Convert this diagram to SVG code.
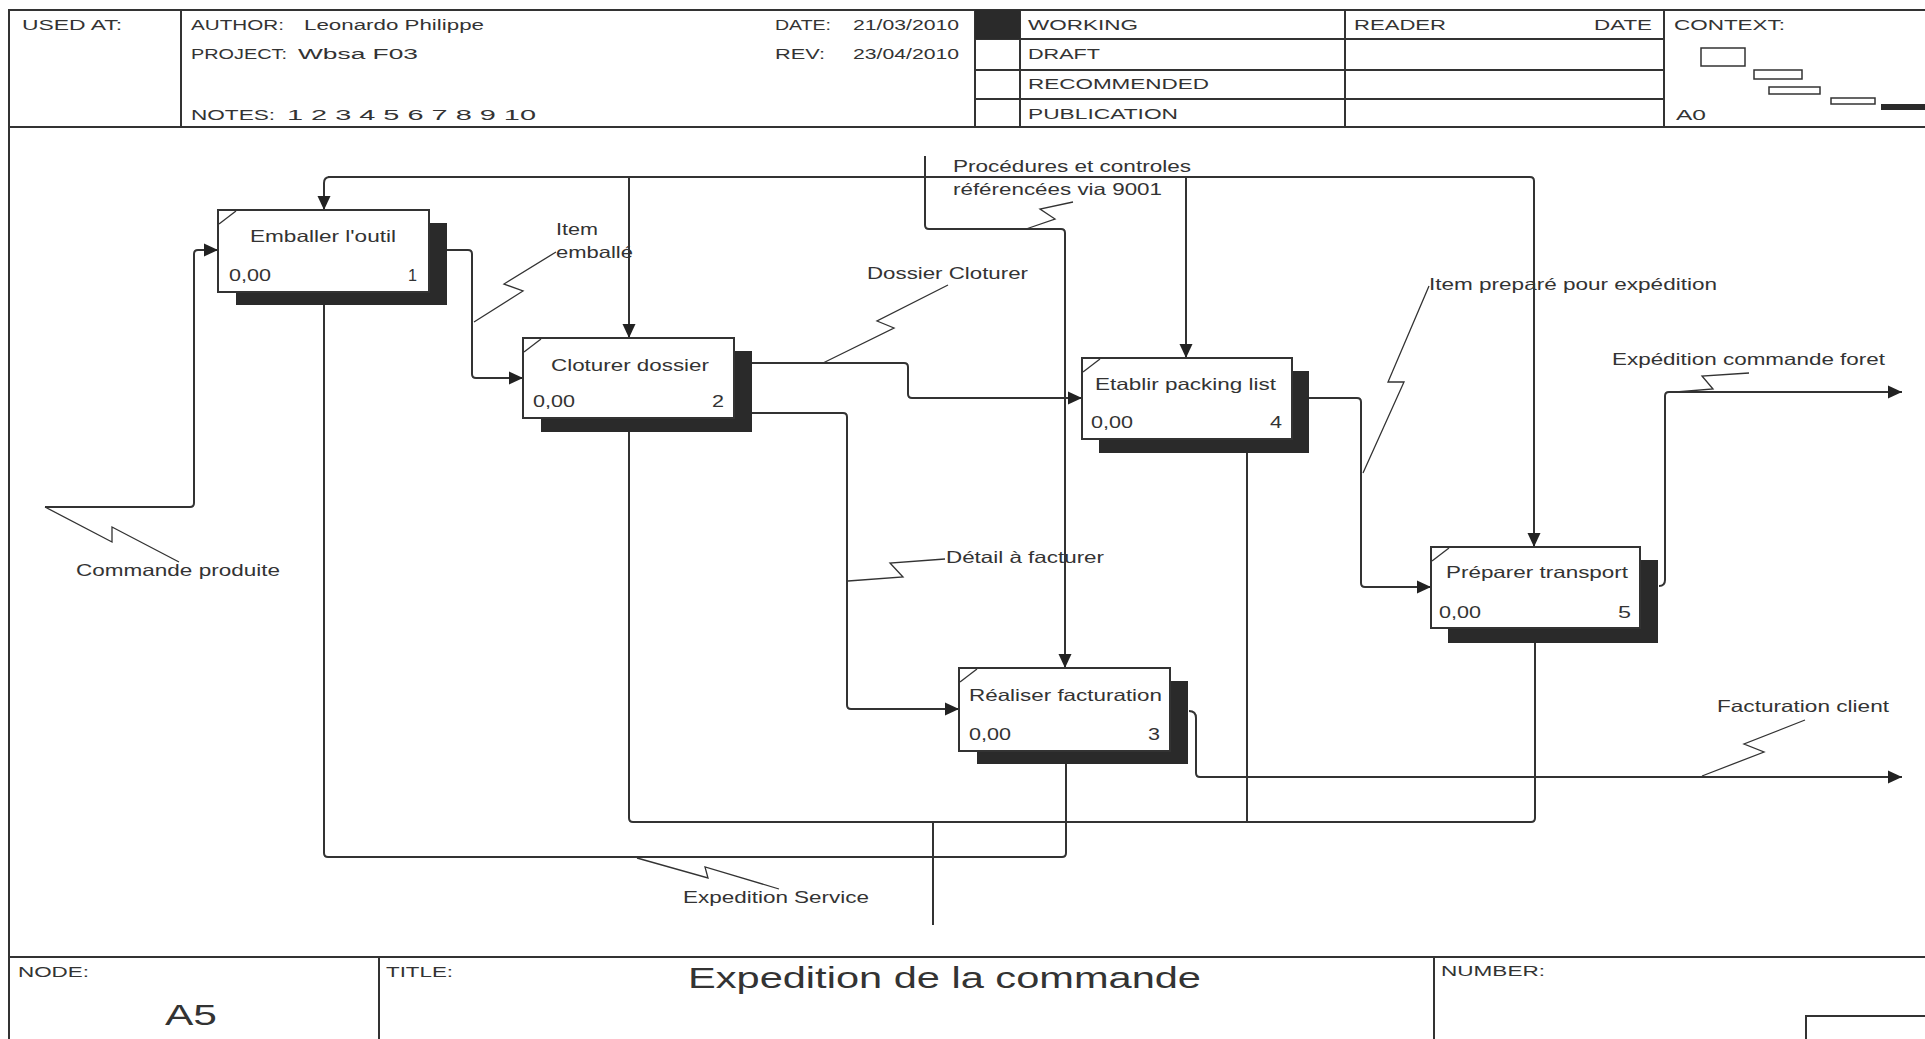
<svg xmlns="http://www.w3.org/2000/svg" width="1925" height="1039" viewBox="0 0 1925 1039">
<style>
.t{font-family:"Liberation Sans",Arial,sans-serif;fill:#333;font-size:15.5px}
.b{font-family:"Liberation Sans",Arial,sans-serif;fill:#333;font-size:16.5px}
.big{font-family:"Liberation Sans",Arial,sans-serif;fill:#333;font-size:30px}
.fr{stroke:#333;stroke-width:2;fill:none}
.ln{stroke:#333;stroke-width:2;fill:none}
.sq{stroke:#333;stroke-width:1.3;fill:none}
.box{fill:#fff;stroke:#333;stroke-width:2}
.sh{fill:#2a2a2a}
</style>
<defs>
<marker id="ar" markerUnits="userSpaceOnUse" markerWidth="14" markerHeight="14" refX="14" refY="7" orient="auto">
<path d="M0,0.5 L14,7 L0,13.5 z" fill="#222"/>
</marker>
</defs>
<rect x="0" y="0" width="1925" height="1039" fill="#fff"/>

<g id="frame">
<path class="fr" d="M9,1039 V10 H1925 M9,127 H1925 M181,10 V127 M975,10 V127 M1020,10 V127 M1345,10 V127 M1664,10 V127 M975,39 H1664 M975,70 H1664 M975,99 H1664"/>
<rect x="975" y="10" width="45" height="29" fill="#2a2a2a"/>
<path class="fr" d="M9,957 H1925 M379,957 V1039 M1434,957 V1039 M1806,1039 V1016 H1925"/>
<g fill="none" stroke="#333" stroke-width="1.5">
<rect x="1701" y="48" width="44" height="18"/>
<rect x="1754" y="70" width="48" height="9"/>
<rect x="1769" y="87" width="51" height="7"/>
<rect x="1831" y="98" width="44" height="6"/>
</g>
<rect x="1881" y="104" width="44" height="6" fill="#2a2a2a"/>
<text class="t" x="22" y="30" textLength="100" lengthAdjust="spacingAndGlyphs">USED AT:</text>
<text class="t" x="191" y="30" textLength="93" lengthAdjust="spacingAndGlyphs">AUTHOR:</text>
<text class="t" x="304" y="30" textLength="180" lengthAdjust="spacingAndGlyphs">Leonardo Philippe</text>
<text class="t" x="191" y="59" textLength="96" lengthAdjust="spacingAndGlyphs">PROJECT:</text>
<text class="t" x="298" y="59" textLength="120" lengthAdjust="spacingAndGlyphs">Wbsa F03</text>
<text class="t" x="191" y="120" textLength="84" lengthAdjust="spacingAndGlyphs">NOTES:</text>
<text class="t" x="287" y="120" textLength="249" lengthAdjust="spacingAndGlyphs">1  2  3  4  5  6  7  8  9  10</text>
<text class="t" x="775" y="30" textLength="56" lengthAdjust="spacingAndGlyphs">DATE:</text>
<text class="t" x="853" y="30" textLength="106" lengthAdjust="spacingAndGlyphs">21/03/2010</text>
<text class="t" x="775" y="59" textLength="50" lengthAdjust="spacingAndGlyphs">REV:</text>
<text class="t" x="853" y="59" textLength="106" lengthAdjust="spacingAndGlyphs">23/04/2010</text>
<text class="t" x="1028" y="30" textLength="110" lengthAdjust="spacingAndGlyphs">WORKING</text>
<text class="t" x="1028" y="59" textLength="72" lengthAdjust="spacingAndGlyphs">DRAFT</text>
<text class="t" x="1028" y="89" textLength="181" lengthAdjust="spacingAndGlyphs">RECOMMENDED</text>
<text class="t" x="1028" y="119" textLength="150" lengthAdjust="spacingAndGlyphs">PUBLICATION</text>
<text class="t" x="1354" y="30" textLength="92" lengthAdjust="spacingAndGlyphs">READER</text>
<text class="t" x="1594" y="30" textLength="58" lengthAdjust="spacingAndGlyphs">DATE</text>
<text class="t" x="1674" y="30" textLength="111" lengthAdjust="spacingAndGlyphs">CONTEXT:</text>
<text class="t" x="1676" y="120" textLength="30" lengthAdjust="spacingAndGlyphs">A0</text>
<text class="t" x="18" y="977" textLength="71" lengthAdjust="spacingAndGlyphs">NODE:</text>
<text class="big" x="165" y="1025" textLength="52" lengthAdjust="spacingAndGlyphs">A5</text>
<text class="t" x="386" y="977" textLength="67" lengthAdjust="spacingAndGlyphs">TITLE:</text>
<text class="big" x="688" y="988" textLength="513" lengthAdjust="spacingAndGlyphs">Expedition de la commande</text>
<text class="t" x="1441" y="976" textLength="104" lengthAdjust="spacingAndGlyphs">NUMBER:</text>
</g>

<g id="connectors">
<path class="ln" d="M328,177 H1530 Q1534,177 1534,181 V547" marker-end="url(#ar)"/>
<path class="ln" d="M330,177 Q324,177 324,183 V210" marker-end="url(#ar)"/>
<path class="ln" d="M629,177 V338" marker-end="url(#ar)"/>
<path class="ln" d="M1186,177 V358" marker-end="url(#ar)"/>
<path class="ln" d="M925,156 V225 Q925,229 929,229 H1061 Q1065,229 1065,233 V668" marker-end="url(#ar)"/>
<path class="ln" d="M45,507 H190 Q194,507 194,503 V254 Q194,250 198,250 H218" marker-end="url(#ar)"/>
<path class="ln" d="M446,250 H468 Q472,250 472,254 V374 Q472,378 476,378 H523" marker-end="url(#ar)"/>
<path class="ln" d="M752,363 H904 Q908,363 908,367 V394 Q908,398 912,398 H1082" marker-end="url(#ar)"/>
<path class="ln" d="M752,413 H843 Q847,413 847,417 V705 Q847,709 851,709 H959" marker-end="url(#ar)"/>
<path class="ln" d="M1309,398 H1357 Q1361,398 1361,402 V583 Q1361,587 1365,587 H1431" marker-end="url(#ar)"/>
<path class="ln" d="M1659,586 Q1665,586 1665,580 V396 Q1665,392 1669,392 H1902" marker-end="url(#ar)"/>
<path class="ln" d="M1189,711 Q1196,711 1196,718 V773 Q1196,777 1200,777 H1902" marker-end="url(#ar)"/>
<path class="ln" d="M629,420 V818 Q629,822 633,822 H1531 Q1535,822 1535,818 V620"/>
<path class="ln" d="M1247,822 V430"/>
<path class="ln" d="M324,290 V853 Q324,857 328,857 H1062 Q1066,857 1066,853 V740"/>
<path class="ln" d="M933,925 V822"/>
<path class="sq" d="M45,507 L112,542 L112,527 L179,562"/>
<path class="sq" d="M556,252 L504,284 L523,291 L474,322"/>
<path class="sq" d="M1073,202 L1040,209 L1055,219 L1026,229"/>
<path class="sq" d="M948,285 L877,321 L894,328 L823,363"/>
<path class="sq" d="M945,559 L890,563 L903,577 L848,581"/>
<path class="sq" d="M1429,286 L1388,382 L1404,382 L1363,473"/>
<path class="sq" d="M1749,373 L1702,376 L1713,389 L1676,392"/>
<path class="sq" d="M1805,720 L1744,744 L1764,752 L1702,776"/>
<path class="sq" d="M637,858 L708,878 L705,867 L779,889"/>
<text class="b" x="556" y="235" textLength="42" lengthAdjust="spacingAndGlyphs">Item</text>
<text class="b" x="556" y="258" textLength="77" lengthAdjust="spacingAndGlyphs">emballé</text>
<text class="b" x="953" y="172" textLength="238" lengthAdjust="spacingAndGlyphs">Procédures et controles</text>
<text class="b" x="953" y="195" textLength="209" lengthAdjust="spacingAndGlyphs">référencées via 9001</text>
<text class="b" x="867" y="279" textLength="161" lengthAdjust="spacingAndGlyphs">Dossier Cloturer</text>
<text class="b" x="1429" y="290" textLength="288" lengthAdjust="spacingAndGlyphs">Item preparé pour expédition</text>
<text class="b" x="1612" y="365" textLength="273" lengthAdjust="spacingAndGlyphs">Expédition commande foret</text>
<text class="b" x="946" y="563" textLength="158" lengthAdjust="spacingAndGlyphs">Détail à facturer</text>
<text class="b" x="76" y="576" textLength="204" lengthAdjust="spacingAndGlyphs">Commande produite</text>
<text class="b" x="1717" y="712" textLength="172" lengthAdjust="spacingAndGlyphs">Facturation client</text>
<text class="b" x="683" y="903" textLength="186" lengthAdjust="spacingAndGlyphs">Expedition Service</text>
</g>

<g id="node1">
<rect class="sh" x="236" y="223" width="211" height="82"/>
<rect class="box" x="218" y="210" width="211" height="82"/>
<path class="sq" d="M219,224 L236,211"/>
<text class="b" x="250" y="242" textLength="146" lengthAdjust="spacingAndGlyphs">Emballer l'outil</text>
<text class="b" x="229" y="281" textLength="42" lengthAdjust="spacingAndGlyphs">0,00</text>
<text class="b" x="408" y="281" textLength="9" lengthAdjust="spacingAndGlyphs">1</text>
</g>
<g id="node2">
<rect class="sh" x="541" y="351" width="211" height="81"/>
<rect class="box" x="523" y="338" width="211" height="80"/>
<path class="sq" d="M524,352 L541,339"/>
<text class="b" x="551" y="371" textLength="158" lengthAdjust="spacingAndGlyphs">Cloturer dossier</text>
<text class="b" x="533" y="407" textLength="42" lengthAdjust="spacingAndGlyphs">0,00</text>
<text class="b" x="712" y="407" textLength="12" lengthAdjust="spacingAndGlyphs">2</text>
</g>
<g id="node3">
<rect class="sh" x="977" y="681" width="211" height="83"/>
<rect class="box" x="959" y="668" width="211" height="83"/>
<path class="sq" d="M960,682 L977,669"/>
<text class="b" x="969" y="701" textLength="193" lengthAdjust="spacingAndGlyphs">Réaliser facturation</text>
<text class="b" x="969" y="740" textLength="42" lengthAdjust="spacingAndGlyphs">0,00</text>
<text class="b" x="1148" y="740" textLength="12" lengthAdjust="spacingAndGlyphs">3</text>
</g>
<g id="node4">
<rect class="sh" x="1099" y="371" width="210" height="82"/>
<rect class="box" x="1082" y="358" width="210" height="81"/>
<path class="sq" d="M1083,372 L1100,359"/>
<text class="b" x="1095" y="390" textLength="181" lengthAdjust="spacingAndGlyphs">Etablir packing list</text>
<text class="b" x="1091" y="428" textLength="42" lengthAdjust="spacingAndGlyphs">0,00</text>
<text class="b" x="1270" y="428" textLength="12" lengthAdjust="spacingAndGlyphs">4</text>
</g>
<g id="node5">
<rect class="sh" x="1448" y="560" width="210" height="83"/>
<rect class="box" x="1431" y="547" width="209" height="81"/>
<path class="sq" d="M1432,561 L1449,548"/>
<text class="b" x="1446" y="578" textLength="182" lengthAdjust="spacingAndGlyphs">Préparer transport</text>
<text class="b" x="1439" y="618" textLength="42" lengthAdjust="spacingAndGlyphs">0,00</text>
<text class="b" x="1618" y="618" textLength="13" lengthAdjust="spacingAndGlyphs">5</text>
</g>
</svg>
